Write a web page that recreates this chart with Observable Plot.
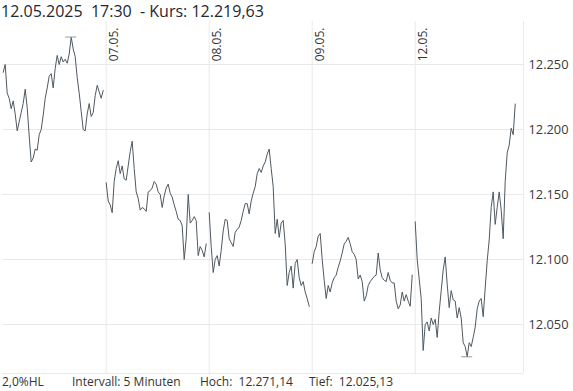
<!DOCTYPE html>
<html><head><meta charset="utf-8">
<script src="https://cdn.jsdelivr.net/npm/d3@7"></script>
<script src="https://cdn.jsdelivr.net/npm/@observablehq/plot@0.6"></script>
<style>
body{margin:0;background:#fff;font-family:"Open Sans",sans-serif;}
#wrap{position:relative;width:573px;height:391px;overflow:hidden;}
#chart svg{position:absolute;left:0;top:0;}
#title{position:absolute;left:1px;top:0;font-size:16px;line-height:22px;color:#1d2935;white-space:pre;}
.foot{position:absolute;top:373px;font-size:12px;line-height:18px;color:#333;white-space:pre;}
</style></head><body>
<div id="wrap"><div id="chart"></div><div id="title"></div>
<div class="foot" id="f1" style="left:2px"></div>
<div class="foot" id="f2" style="left:72px"></div>
<div class="foot" id="f3" style="left:200px"></div>
<div class="foot" id="f4" style="left:309px"></div>
</div>
<script>
// day labels (trading days)
const dayLabels = ["06.05.", "07.05.", "08.05.", "09.05.", "12.05."];
const lastDate = "12.05.2025";
const lastTime = "17:30";
const intervalText = "Intervall: 5 Minuten";
const hlText = "2,0%HL";
const yTicks = [12050, 12100, 12150, 12200, 12250];
const barsPerDay = 103;   // 5-minute bars per session
const sampleStep = 2;     // values below are read every 10 minutes

// index values, every 10 minutes per day
const day1 = [12244,12250,12228,12224,12216,12222,12212,12199,12206,12213,12220,12231,12217,12195,12175,12178,12185,12184,12196,12200,12211,12224,12232,12241,12243,12232,12247,12257,12250,12256,12252,12254,12251,12258,12271.14,12262,12256,12240,12228,12214,12200,12199,12212,12220,12210,12213,12226,12234,12229,12224,12230];
const day2 = [12159,12145,12142,12136,12160,12170,12176,12166,12172,12162,12161,12172,12183,12191,12170,12152,12147,12138,12140,12139,12137,12152,12153,12155,12160,12158,12152,12150,12140,12149,12155,12158,12151,12148,12142,12137,12131,12130,12126,12100,12116,12150,12128,12130,12133,12130,12103,12110,12107,12102,12112];
const day3 = [12136,12110,12090,12100,12103,12095,12107,12122,12131,12130,12116,12113,12110,12121,12123,12125,12130,12137,12143,12143,12135,12145,12151,12156,12166,12170,12167,12172,12175,12181,12185,12170,12156,12120,12131,12117,12128,12130,12112,12080,12090,12095,12078,12097,12100,12086,12080,12083,12075,12070,12064];
const day4 = [12097,12106,12110,12118,12120,12100,12084,12070,12080,12075,12082,12086,12088,12094,12099,12105,12112,12114,12117,12112,12106,12104,12100,12085,12088,12083,12068,12072,12080,12083,12085,12087,12088,12105,12092,12086,12084,12083,12090,12084,12082,12082,12068,12062,12065,12075,12068,12073,12068,12064,12088];
const day5 = [12129,12100,12085,12070,12030,12050,12052,12045,12055,12050,12054,12040,12060,12076,12092,12102,12081,12063,12076,12069,12068,12055,12063,12055,12036,12033,12025.13,12036,12033,12040,12048,12062,12068,12070,12056,12078,12099,12115,12140,12152,12127,12140,12152,12138,12116,12160,12182,12188,12201,12196,12219.63];

const days = [day1, day2, day3, day4, day5];
const data = days.flatMap((vals, d) => vals.map((v, k) => ({i: d * barsPerDay + k * sampleStep, v, day: dayLabels[d]})));
const hi = data.reduce((a, b) => (b.v > a.v ? b : a));
const lo = data.reduce((a, b) => (b.v < a.v ? b : a));
const last = data[data.length - 1];

const de = d3.formatLocale({decimal: ",", thousands: ".", grouping: [3], currency: ["", "€"]});
const f2 = de.format(",.2f");
const fInt = de.format(",d");

const starts = dayLabels.map((l, d) => ({i: d * barsPerDay, label: l})).slice(1);
const xMax = dayLabels.length * barsPerDay + 5.3;
const yDomain = [12012.3, 12283.1];

const grid = "#e9e9e9";
const chart = Plot.plot({
  width: 573, height: 391,
  marginLeft: 2, marginRight: 50, marginTop: 21, marginBottom: 18,
  style: {fontFamily: "'Open Sans', sans-serif", background: "transparent"},
  x: {domain: [-0.7, xMax], axis: null},
  y: {domain: yDomain, axis: null},
  marks: [
    Plot.ruleY(yTicks, {stroke: grid, strokeWidth: 1}),
    Plot.ruleX(starts, {x: "i", stroke: grid, strokeWidth: 1}),
    Plot.ruleX([xMax], {stroke: grid, strokeWidth: 1}),
    Plot.ruleY([yDomain[0]], {stroke: grid, strokeWidth: 1}),
    Plot.text(starts, {x: "i", text: "label", frameAnchor: "top", rotate: -90, textAnchor: "end", lineAnchor: "bottom", dx: 12, dy: 6, fontSize: 12, fill: "#333"}),
    Plot.text(yTicks, {y: d => d, text: d => fInt(d), frameAnchor: "right", textAnchor: "start", dx: 5, fontSize: 12.8, fill: "#3a3a3a"}),
    Plot.line(data, {x: "i", y: "v", z: "day", stroke: "#4f5961", strokeWidth: 1, curve: "linear"}),
    Plot.ruleY([hi], {y: "v", x1: d => d.i - 5.5, x2: d => d.i + 5.5, stroke: "#9a9a9a", strokeWidth: 1}),
    Plot.ruleY([lo], {y: "v", x1: d => d.i - 5.5, x2: d => d.i + 5.5, stroke: "#9a9a9a", strokeWidth: 1})
  ]
});
document.getElementById("chart").appendChild(chart);
document.getElementById("title").textContent = `${lastDate}  ${lastTime}  - Kurs: ${f2(last.v)}`;
document.getElementById("f1").textContent = hlText;
document.getElementById("f2").textContent = intervalText;
document.getElementById("f3").textContent = `Hoch:  ${f2(hi.v)}`;
document.getElementById("f4").textContent = `Tief:  ${f2(lo.v)}`;
</script>
</body></html>
